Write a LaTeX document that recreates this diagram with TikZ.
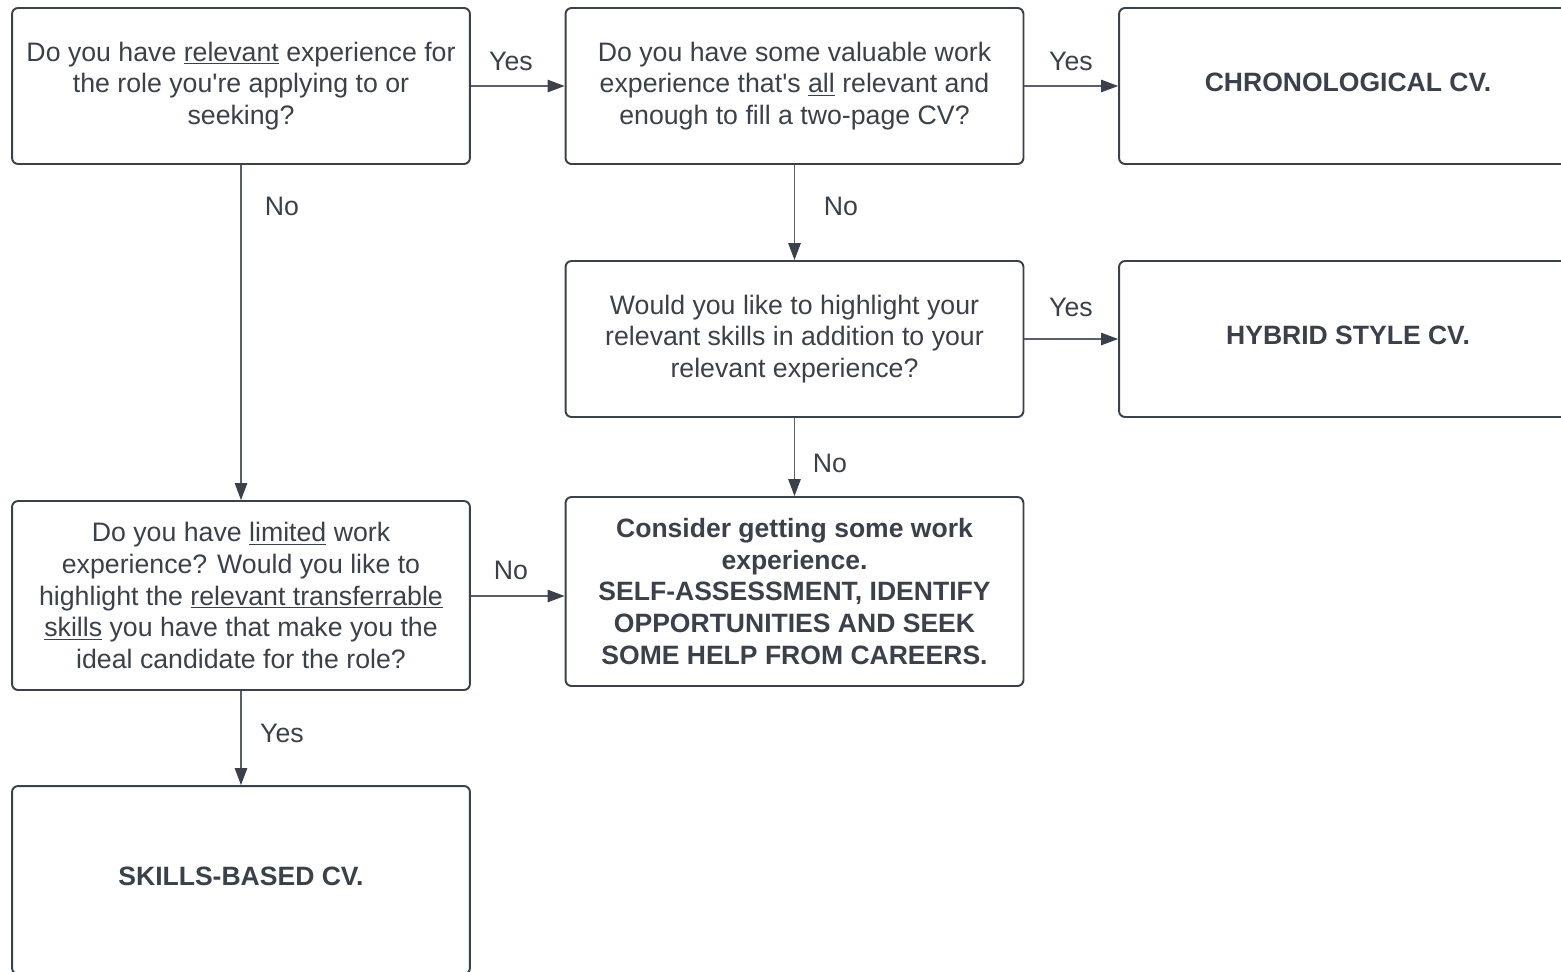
\documentclass[tikz,border=0pt]{standalone}
\usepackage{fontspec}
\setmainfont[Ligatures=TeXOff]{Liberation Sans}
\usetikzlibrary{arrows.meta}
\definecolor{ink}{HTML}{3A414A}
\definecolor{wire}{HTML}{5A6069}
\tikzset{
  box/.style={draw=ink, line width=1.1pt, rounded corners=0.12cm, fill=white,
    minimum width=9.16cm, minimum height=3.12cm, align=center, text=ink,
    inner sep=0pt, font={\fontsize{15.2}{18.1}\selectfont}},
  tall/.style={minimum height=3.78cm},
  outcome/.style={font={\fontsize{15.1}{18.1}\selectfont\bfseries}},
  single/.style={text height=0.4cm, text depth=0.18cm},
  conn/.style={draw=wire, line width=0.6pt, -{Triangle[length=0.34cm,width=0.25cm,color=ink]}},
  lbl/.style={text=ink, font={\fontsize{15.2}{18.1}\selectfont}, inner sep=0pt}
}
\begin{document}
\begin{tikzpicture}[x=0.02cm,y=-0.02cm]
\useasboundingbox (0,0) rectangle (1561,971);
\clip (0,0) rectangle (1561,971);
\fill[white] (0,0) rectangle (1561,971);

\node[box] (a) at (241,86) {Do you have \underline{relevant} experience for\\the role you're applying to or\\seeking?};
\node[box] (b) at (794.5,86) {Do you have some valuable work\\experience that's \underline{all} relevant and\\enough to fill a two-page CV?};
\node[box,outcome,single] (c) at (1348,86) {CHRONOLOGICAL CV.};
\node[box] (d) at (794.5,339) {Would you like to highlight your\\relevant skills in addition to your\\relevant experience?};
\node[box,outcome,single] (e) at (1348,339) {HYBRID STYLE CV.};
\node[box,tall] (f) at (241,595.5) {Do you have \underline{limited} work\\experience? Would you like to\\highlight the \underline{relevant transferrable}\\\underline{skills} you have that make you the\\ideal candidate for the role?};
\node[box,tall,outcome] (g) at (794.5,591.5) {Consider getting some work\\experience.\\SELF-ASSESSMENT, IDENTIFY\\OPPORTUNITIES AND SEEK\\SOME HELP FROM CAREERS.};
\node[box,outcome,single,minimum height=3.76cm] (h) at (241,880) {SKILLS-BASED CV.};

\draw[conn] (a.east) -- (b.west);
\draw[conn] (b.east) -- (c.west);
\draw[conn] (a.south) -- (f.north);
\draw[conn] (b.south) -- (d.north);
\draw[conn] (d.east) -- (e.west);
\draw[conn] (d.south) -- (g.north);
\draw[conn] (f.east |- 0,596) -- (g.west |- 0,596);
\draw[conn] (f.south) -- (h.north);

\node[lbl] (l1) at (511,61) {Yes};
\node[lbl] (l2) at (1071,61) {Yes};
\node[lbl] (l3) at (282,206) {No};
\node[lbl] (l4) at (841,206) {No};
\node[lbl] (l5) at (1071,307) {Yes};
\node[lbl] (l6) at (830,463) {No};
\node[lbl] (l7) at (511,570) {No};
\node[lbl] (l8) at (282,733) {Yes};
\end{tikzpicture}
\end{document}
